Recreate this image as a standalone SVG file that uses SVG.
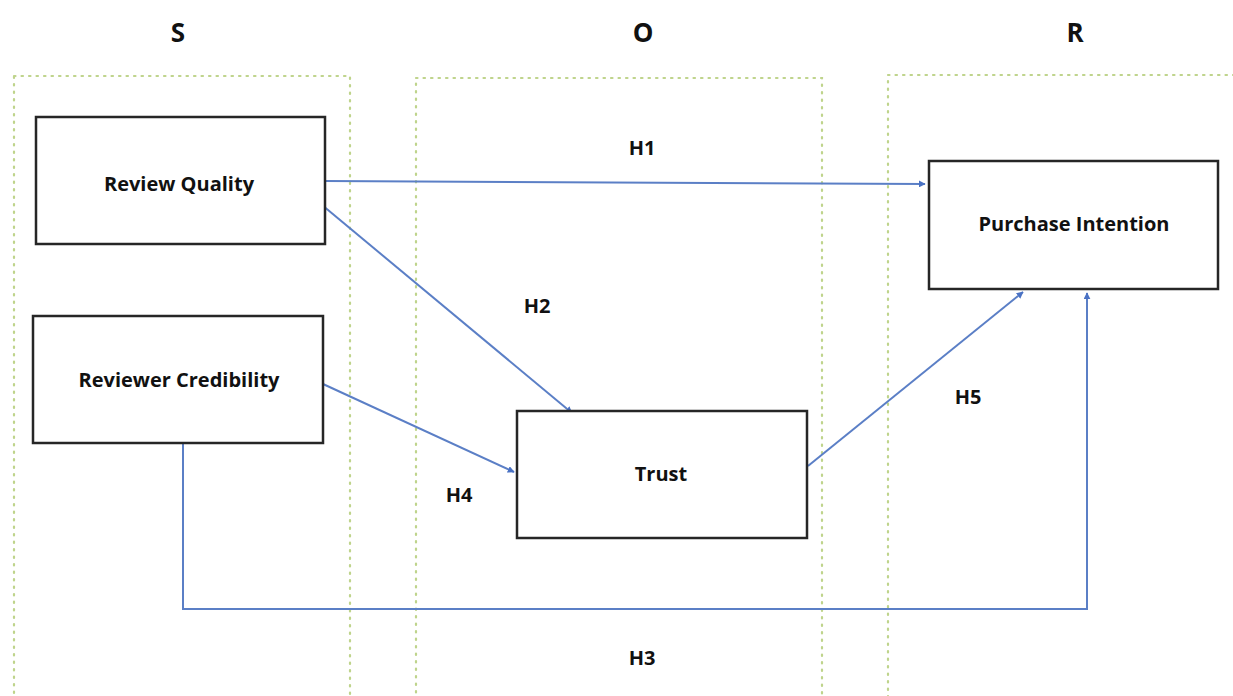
<svg xmlns="http://www.w3.org/2000/svg" width="1233" height="696" viewBox="0 0 1233 696">
<style>
.zone{fill:none;stroke:#bfd48c;stroke-width:2.2;stroke-dasharray:1.5 6;stroke-linecap:round}
.box{fill:#fff;stroke:#262626;stroke-width:2.5}
.lbl{font-family:"Open Sans","Liberation Sans",sans-serif;font-weight:bold;font-size:20px;fill:#111;text-anchor:middle}
.hd{font-family:"Open Sans","Liberation Sans",sans-serif;font-weight:bold;font-size:26px;fill:#111;text-anchor:middle}
.conn{fill:none;stroke:#5b7fc6;stroke-width:2}
</style>
<defs>
<marker id="arr" viewBox="0 0 10 10" refX="9" refY="5" markerWidth="7" markerHeight="7" markerUnits="userSpaceOnUse" orient="auto">
<path d="M0,0 L10,5 L0,10 z" fill="#4a72c4"/>
</marker>
</defs>
<rect width="1233" height="696" fill="#fff"/>
<g id="zones">
<rect class="zone" x="14" y="76" width="336" height="640"/>
<rect class="zone" x="416" y="78" width="406" height="640"/>
<rect class="zone" x="888" y="75" width="380" height="640"/>
</g>
<g id="headers">
<text class="hd" x="178" y="42">S</text>
<text class="hd" x="643" y="42">O</text>
<text class="hd" x="1075" y="42">R</text>
</g>
<g id="connectors">
<path class="conn" d="M325,181 L925,184" marker-end="url(#arr)"/>
<path class="conn" d="M322,205 L572,413" marker-end="url(#arr)"/>
<path class="conn" d="M323,384 L514,472" marker-end="url(#arr)"/>
<path class="conn" d="M808,466 L1023,292" marker-end="url(#arr)"/>
<path class="conn" d="M183,444 L183,609 L1087,609 L1087,293" marker-end="url(#arr)"/>
</g>
<g id="edge-labels">
<text class="lbl" x="642" y="155">H1</text>
<text class="lbl" x="537" y="313">H2</text>
<text class="lbl" x="642" y="665">H3</text>
<text class="lbl" x="459" y="502">H4</text>
<text class="lbl" x="968" y="404">H5</text>
</g>
<g id="review-quality">
<rect class="box" x="36" y="117" width="289" height="127"/>
<text class="lbl" x="179" y="191">Review Quality</text>
</g>
<g id="reviewer-credibility">
<rect class="box" x="33" y="316" width="290" height="127"/>
<text class="lbl" x="179" y="387">Reviewer Credibility</text>
</g>
<g id="trust">
<rect class="box" x="517" y="411" width="290" height="127"/>
<text class="lbl" x="661" y="481">Trust</text>
</g>
<g id="purchase-intention">
<rect class="box" x="929" y="161" width="289" height="128"/>
<text class="lbl" x="1074" y="231">Purchase Intention</text>
</g>
</svg>
